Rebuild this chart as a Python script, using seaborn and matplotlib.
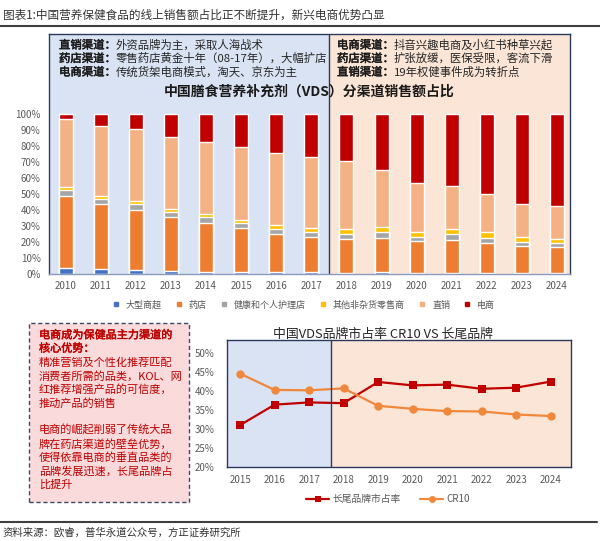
import numpy as np
import pandas as pd
import matplotlib
matplotlib.use("Agg")
import matplotlib.pyplot as plt
import matplotlib.patheffects as pe
from matplotlib.patches import Rectangle
from matplotlib.lines import Line2D
import seaborn as sns

sns.set_theme(style="white")
plt.rcParams['font.family'] = ['Noto Sans CJK SC', 'DejaVu Sans']

# 分渠道销售额占比 (%)
years = [str(y) for y in range(2010, 2025)]
channels = ["大型商超", "药店", "健康和个人护理店", "其他非杂货零售商", "直销", "电商"]
hypermarket = [4.0, 3.0, 2.3, 1.9, 1.5, 1.5, 1.3, 1.1, 0.8, 1.0, 0.7, 0.7, 0.6, 0.6, 0.6]
pharmacy = [45.0, 40.5, 37.9, 33.5, 30.5, 27.0, 23.5, 21.8, 20.9, 21.8, 19.8, 20.8, 19.0, 17.1, 16.5]
health_store = [3.5, 3.5, 3.5, 3.1, 3.6, 3.2, 3.3, 3.1, 3.3, 3.7, 2.9, 3.3, 2.9, 2.6, 2.5]
other_retail = [1.7, 1.6, 1.9, 1.9, 1.9, 2.1, 2.3, 2.8, 3.0, 2.9, 3.1, 3.4, 3.6, 2.9, 2.5]
direct = [42.5, 43.7, 45.0, 45.2, 45.2, 45.4, 45.4, 44.5, 42.4, 35.5, 30.3, 27.1, 23.8, 20.6, 20.5]
ecommerce = [3.3, 7.7, 9.4, 14.4, 17.3, 20.8, 24.2, 26.7, 29.6, 35.1, 43.2, 44.7, 50.1, 56.2, 57.4]
bar_colors = ["#4472c4", "#ed7d31", "#a5a5a5", "#ffc000", "#f4b183", "#c00000"]

# 品牌市占率 (%)
line_years = [str(y) for y in range(2015, 2025)]
long_tail = [31.0, 36.4, 37.0, 36.8, 42.4, 41.5, 41.7, 40.6, 40.9, 42.5]
cr10 = [44.6, 40.3, 40.2, 40.7, 36.1, 35.3, 34.7, 34.6, 33.8, 33.4]

W, H = 600, 541
BLUE_BG = "#dae3f3"
PEACH_BG = "#fbe5d6"
NAVY = "#2b3a5c"
TICK = "#595959"


def rect(x0, y0, x1, y1):
    return [x0 / W, 1 - y1 / H, (x1 - x0) / W, (y1 - y0) / H]


def fake_bold(color):
    return [pe.withStroke(linewidth=0.35, foreground=color)]


fig = plt.figure(figsize=(W / 100, H / 100), dpi=100)

# ---- 顶部标题
fig.text(3 / W, 1 - 15 / H, "图表1:中国营养保健食品的线上销售额占比正不断提升，新兴电商优势凸显",
         fontsize=8.4, va="center", color="#333333")
fig.add_artist(Line2D([0, 1], [1 - 26 / H] * 2, transform=fig.transFigure, color="#3f3f3f", lw=1.5))

# ---- 堆积柱状图
ax = fig.add_axes(rect(49, 34, 570, 274))
ax.axvspan(-1, 7.5, color=BLUE_BG, zorder=0, lw=0)
ax.axvspan(7.5, 16, color=PEACH_BG, zorder=0, lw=0)

layers = [hypermarket, pharmacy, health_store, other_retail, direct, ecommerce]
cum = np.cumsum(np.array(layers), axis=0)
cum[-1] = 100
for i in range(len(layers) - 1, -1, -1):
    sns.barplot(x=years, y=cum[i], color=bar_colors[i], width=0.4, saturation=1,
                errorbar=None, ax=ax)

ax.set_xlim(-0.476, 14.37)
ax.set_ylim(0, 150)
ax.set_yticks(range(0, 101, 10))
ax.set_yticklabels([f"{v}%" for v in range(0, 101, 10)])
ax.set_xlabel("")
ax.set_ylabel("")
ax.axvline(7.5, color=NAVY, lw=1)
for s in ax.spines.values():
    s.set_color(NAVY)
    s.set_linewidth(1)
ax.spines["bottom"].set_color("#8a9bbd")
ax.tick_params(axis="both", length=0, labelsize=7, colors=TICK)
ax.tick_params(axis="y", pad=6)
ax.tick_params(axis="x", pad=5)

ax.text(0.5, 1 - (92 - 34) / 240, "中国膳食营养补充剂（VDS）分渠道销售额占比", transform=ax.transAxes,
        ha="center", va="center", fontsize=10, fontweight="bold", color="#1a1a1a")

# 顶部说明文字
notes_left = [("直销渠道：", "外资品牌为主，采取人海战术"),
              ("药店渠道：", "零售药店黄金十年（08-17年），大幅扩店"),
              ("电商渠道：", "传统货架电商模式，淘天、京东为主")]
notes_right = [("电商渠道：", "抖音兴趣电商及小红书种草兴起"),
               ("药店渠道：", "扩张放缓，医保受限，客流下滑"),
               ("直销渠道：", "19年权健事件成为转折点")]
for x0, notes in [(59, notes_left), (337, notes_right)]:
    for j, (lab, body) in enumerate(notes):
        yy = 1 - (45 + 13.5 * j) / H
        fig.text(x0 / W, yy, lab, fontsize=8.2, va="center", ha="left",
                 color="#1a1a1a", path_effects=fake_bold("#1a1a1a"))
        fig.text((x0 + 57) / W, yy, body, fontsize=8.2, va="center", ha="left", color="#262626")

# 图例
handles = [Line2D([], [], marker="s", ls="", color=c, markersize=3.5) for c in bar_colors]
fig.legend(handles, channels, loc="center", bbox_to_anchor=(301 / W, 1 - 305 / H), ncol=6,
           frameon=False, fontsize=6.5, handletextpad=0.1, columnspacing=0.9, labelcolor=TICK)

# ---- 左下说明框
fig.add_artist(Rectangle((29 / W, 1 - 502 / H), 160 / W, 179 / H, transform=fig.transFigure,
                         facecolor="#fadadb", edgecolor="#3a4a6b", ls=(0, (3, 2)), lw=1))
box_lines = [("电商成为保健品主力渠道的", True), ("核心优势：", True),
             ("精准营销及个性化推荐匹配", False), ("消费者所需的品类，KOL、网", False),
             ("红推荐增强产品的可信度，", False), ("推动产品的销售", False), ("", False),
             ("电商的崛起削弱了传统大品", False), ("牌在药店渠道的壁垒优势，", False),
             ("使得依靠电商的垂直品类的", False), ("品牌发展迅速，长尾品牌占", False),
             ("比提升", False)]
for k, (txt, bold) in enumerate(box_lines):
    fig.text(39 / W, 1 - (335 + 13.65 * k) / H, txt, fontsize=8, va="center", color="#c00000",
             path_effects=fake_bold("#c00000") if bold else None)

# ---- 折线图
ax2 = fig.add_axes(rect(227, 340, 571, 466.7))
split = 2.63
ax2.axvspan(-1, split, color=BLUE_BG, zorder=0, lw=0)
ax2.axvspan(split, 11, color=PEACH_BG, zorder=0, lw=0)
idx = np.arange(len(line_years))
df = pd.DataFrame({"idx": idx, "long_tail": long_tail, "cr10": cr10})
sns.lineplot(data=df, x="idx", y="long_tail", marker="s", color="#c00000", markersize=6,
             markeredgewidth=0, lw=1.6, ax=ax2)
sns.lineplot(data=df, x="idx", y="cr10", marker="o", color="#f0883c", markersize=6,
             markeredgewidth=0, lw=1.6, ax=ax2)
ax2.axvline(split, color=NAVY, lw=1)
ax2.set_xlim(-0.38, 9.59)
ax2.set_ylim(20, 53.5)
ax2.set_yticks(range(20, 51, 5))
ax2.set_yticklabels([f"{v}%" for v in range(20, 51, 5)])
ax2.set_xticks(idx)
ax2.set_xticklabels(line_years)
ax2.set_xlabel("")
ax2.set_ylabel("")
for s in ax2.spines.values():
    s.set_color(NAVY)
    s.set_linewidth(1)
ax2.tick_params(axis="both", length=0, labelsize=7, colors=TICK)
ax2.tick_params(axis="y", pad=9)
ax2.tick_params(axis="x", pad=6)

fig.text(383 / W, 1 - 334 / H, "中国VDS品牌市占率 CR10 VS 长尾品牌", ha="center", va="center",
         fontsize=9.3, color="#262626")

lh = [Line2D([], [], color="#c00000", marker="s", markersize=5, markeredgewidth=0, lw=1.6),
      Line2D([], [], color="#f0883c", marker="o", markersize=5, markeredgewidth=0, lw=1.6)]
fig.legend(lh, ["长尾品牌市占率", "CR10"], loc="center", bbox_to_anchor=(388 / W, 1 - 499 / H),
           ncol=2, frameon=False, fontsize=7, handlelength=2.4, handletextpad=0.3,
           columnspacing=2.0, labelcolor=TICK)

# ---- 底部来源
fig.add_artist(Line2D([0, 597 / W], [1 - 521.5 / H] * 2, transform=fig.transFigure, color="#3f3f3f", lw=1.5))
fig.text(3 / W, 1 - 533 / H, "资料来源：欧睿，普华永道公众号，方正证券研究所", fontsize=7.5,
         va="center", color="#333333")

fig.savefig("out.png", dpi=100)
